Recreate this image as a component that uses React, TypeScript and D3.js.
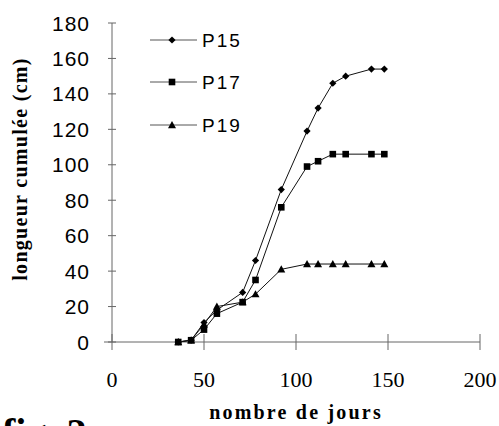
import React from "react";
import * as d3 from "d3";

const days = [36, 43, 50, 57, 71, 78, 92, 106, 112, 120, 127, 141, 148];
const p15 = [0, 1, 11, 18, 28, 46, 86, 119, 132, 146, 150, 154, 154];
const p17 = [0, 1, 7, 16, 22.5, 35, 76, 99, 102, 106, 106, 106, 106];
const p19 = [0, 1, 10, 20, 22.5, 27, 41, 44, 44, 44, 44, 44, 44];
const seriesNames = ["P15", "P17", "P19"];
const markerTypes = ["diamond", "square", "triangle"];
const xTicks = [0, 50, 100, 150, 200];
const yTicks = [0, 20, 40, 60, 80, 100, 120, 140, 160, 180];

const W = 499;
const H = 426;
const SANS = "'Liberation Sans', Arial, sans-serif";
const SERIF = "'Liberation Serif', 'Times New Roman', serif";

function Marker({ type, x, y }: { type: string; x: number; y: number }) {
  if (type === "diamond") {
    const s = 3.6;
    return <path d={`M${x},${y - s}L${x + s},${y}L${x},${y + s}L${x - s},${y}Z`} fill="#000" />;
  }
  if (type === "square") {
    const s = 3.3;
    return <rect x={x - s} y={y - s} width={2 * s} height={2 * s} fill="#000" />;
  }
  const s = 4;
  return <path d={`M${x},${y - s}L${x + s},${y + s * 0.8}L${x - s},${y + s * 0.8}Z`} fill="#000" />;
}

export default function App() {
  const x = d3.scaleLinear().domain([0, 200]).range([112, 480]);
  const y = d3.scaleLinear().domain([0, 180]).range([342, 23]);
  const allSeries = [p15, p17, p19];
  const line = d3
    .line<number>()
    .x((_, i) => x(days[i]))
    .y((v) => y(v));

  const legendY = [40, 82, 125];

  return (
    <svg
      width={W}
      height={H}
      style={{ position: "absolute", left: 0, top: 0, background: "#fff" }}
    >
      <rect width={W} height={H} fill="#fff" />
      {/* y axis */}
      <line x1={x(0)} x2={x(0)} y1={y(180)} y2={y(0)} stroke="#666" strokeWidth={1} />
      {yTicks.map((t) => (
        <g key={"y" + t}>
          <line x1={x(0) - 4} x2={x(0) + 4} y1={y(t)} y2={y(t)} stroke="#666" />
          <text
            x={90}
            y={y(t) + 7.5}
            textAnchor="end"
            fontFamily={SANS}
            fontSize={21}
            letterSpacing={1}
            fill="#000"
          >
            {t}
          </text>
        </g>
      ))}
      {/* x axis */}
      <line x1={104} x2={x(200)} y1={y(0)} y2={y(0)} stroke="#666" strokeWidth={1} />
      {xTicks.map((t) => (
        <g key={"x" + t}>
          <line x1={x(t)} x2={x(t)} y1={y(0) - 8} y2={y(0) + 8} stroke="#666" />
          <text
            x={x(t)}
            y={387}
            textAnchor="middle"
            fontFamily={SERIF}
            fontSize={22}
            fill="#000"
          >
            {t}
          </text>
        </g>
      ))}
      {/* series */}
      {allSeries.map((s, si) => (
        <g key={"s" + si}>
          <path d={line(s) || ""} fill="none" stroke="#111" strokeWidth={1} />
          {s.map((v, i) => (
            <Marker key={i} type={markerTypes[si]} x={x(days[i])} y={y(v)} />
          ))}
        </g>
      ))}
      {/* legend */}
      {seriesNames.map((n, i) => (
        <g key={"l" + n}>
          <line x1={150} x2={197} y1={legendY[i]} y2={legendY[i]} stroke="#555" strokeWidth={1} />
          <Marker type={markerTypes[i]} x={172} y={legendY[i]} />
          <text
            x={202}
            y={legendY[i] + 6.5}
            fontFamily={SANS}
            fontSize={19}
            letterSpacing={2}
            fill="#000"
          >
            {n}
          </text>
        </g>
      ))}
      {/* axis titles */}
      <text
        x={296}
        y={419}
        textAnchor="middle"
        fontFamily={SERIF}
        fontWeight="bold"
        fontSize={20}
        letterSpacing={2.2}
        fill="#000"
      >
        nombre de jours
      </text>
      <text
        transform={`translate(27,169) rotate(-90)`}
        textAnchor="middle"
        fontFamily={SERIF}
        fontWeight="bold"
        fontSize={20}
        letterSpacing={1.3}
        fill="#000"
      >
        longueur cumulée (cm)
      </text>
      {/* figure caption, cut off at bottom */}
      <text x={2} y={446} fontFamily={SERIF} fontWeight="bold" fontSize={40} fill="#000">
        fig. 2
      </text>
    </svg>
  );
}
